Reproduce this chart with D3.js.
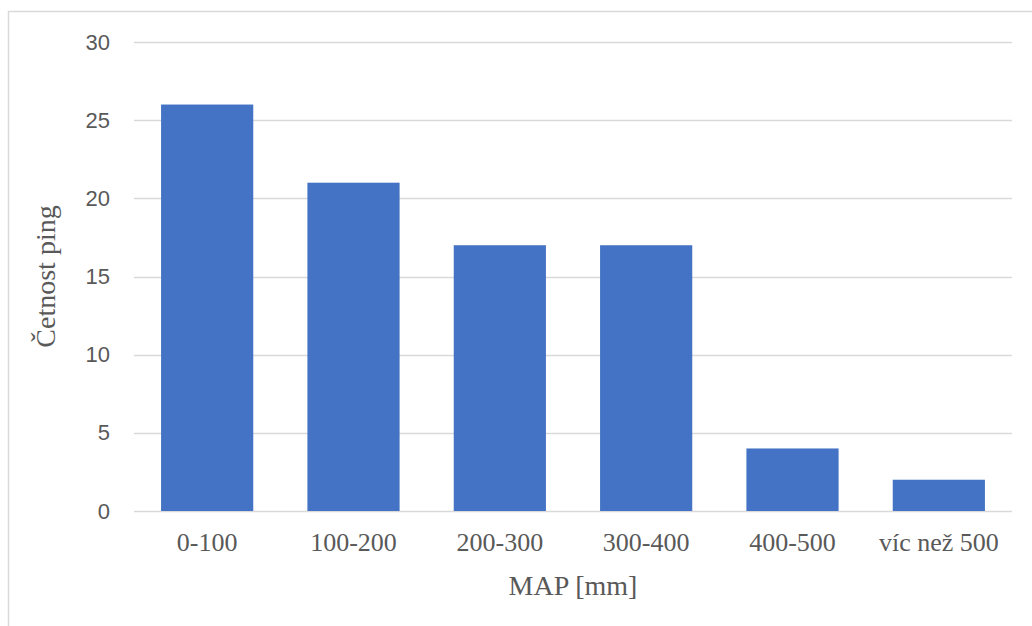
<!DOCTYPE html>
<html>
<head>
<meta charset="utf-8">
<script src="https://cdn.jsdelivr.net/npm/d3@7"></script>
<style>
  html, body { margin: 0; padding: 0; background: #ffffff; }
  svg { display: block; }
</style>
</head>
<body>
<svg id="chart" width="1032" height="626"></svg>
<script>
const categories = ["0-100", "100-200", "200-300", "300-400", "400-500", "víc než 500"];
const values = [26, 21, 17, 17, 4, 2];
const yTicks = [0, 5, 10, 15, 20, 25, 30];
const xTitle = "MAP [mm]";
const yTitle = "Četnost ping";

const svg = d3.select("#chart");
const W = 1032, H = 626;
const m = { left: 134, right: 1012, top: 42, bottom: 511 };

// outer border (only top and left visible in the reference)
svg.append("rect")
  .attr("x", 8.5).attr("y", 11.5)
  .attr("width", 1100).attr("height", 700)
  .attr("fill", "#ffffff")
  .attr("stroke", "#d9d9d9")
  .attr("stroke-width", 1.5);

const x = d3.scaleBand().domain(categories).range([m.left, m.right])
  .paddingInner(0.37).paddingOuter(0.185);
const y = d3.scaleLinear().domain([0, 30]).range([m.bottom, m.top]);

// gridlines
svg.append("g").selectAll("line").data(yTicks).join("line")
  .attr("x1", m.left).attr("x2", m.right)
  .attr("y1", d => Math.round(y(d)) + 0.5).attr("y2", d => Math.round(y(d)) + 0.5)
  .attr("stroke", "#d9d9d9").attr("stroke-width", 1.5);

// y tick labels
const yAxis = d3.axisLeft(y).tickValues(yTicks).tickSize(0).tickPadding(0);
const gy = svg.append("g").attr("transform", `translate(110,0)`).call(yAxis);
gy.select(".domain").remove();
gy.selectAll("text")
  .attr("font-family", "'Liberation Sans', Arial, sans-serif")
  .attr("font-size", 22)
  .attr("fill", "#595959");

// bars
svg.append("g").selectAll("rect").data(values).join("rect")
  .attr("x", (d, i) => x(categories[i]))
  .attr("width", x.bandwidth())
  .attr("y", d => y(d))
  .attr("height", d => y(0) - y(d))
  .attr("fill", "#4472c4");

// x labels
const xAxis = d3.axisBottom(x).tickSize(0).tickPadding(0);
const gx = svg.append("g").attr("transform", `translate(0,${m.bottom})`).call(xAxis);
gx.select(".domain").remove();
gx.selectAll("text")
  .attr("dy", null)
  .attr("y", 40)
  .attr("font-family", "'Liberation Serif', 'Times New Roman', serif")
  .attr("font-size", 26)
  .attr("fill", "#595959");

// axis titles
svg.append("text")
  .attr("x", (m.left + m.right) / 2).attr("y", 595)
  .attr("text-anchor", "middle")
  .attr("font-family", "'Liberation Serif', 'Times New Roman', serif")
  .attr("font-size", 28)
  .attr("fill", "#595959")
  .text(xTitle);

svg.append("text")
  .attr("transform", `translate(55,${(m.top + m.bottom) / 2}) rotate(-90)`)
  .attr("text-anchor", "middle")
  .attr("font-family", "'Liberation Serif', 'Times New Roman', serif")
  .attr("font-size", 28)
  .attr("fill", "#595959")
  .text(yTitle);
</script>
</body>
</html>
